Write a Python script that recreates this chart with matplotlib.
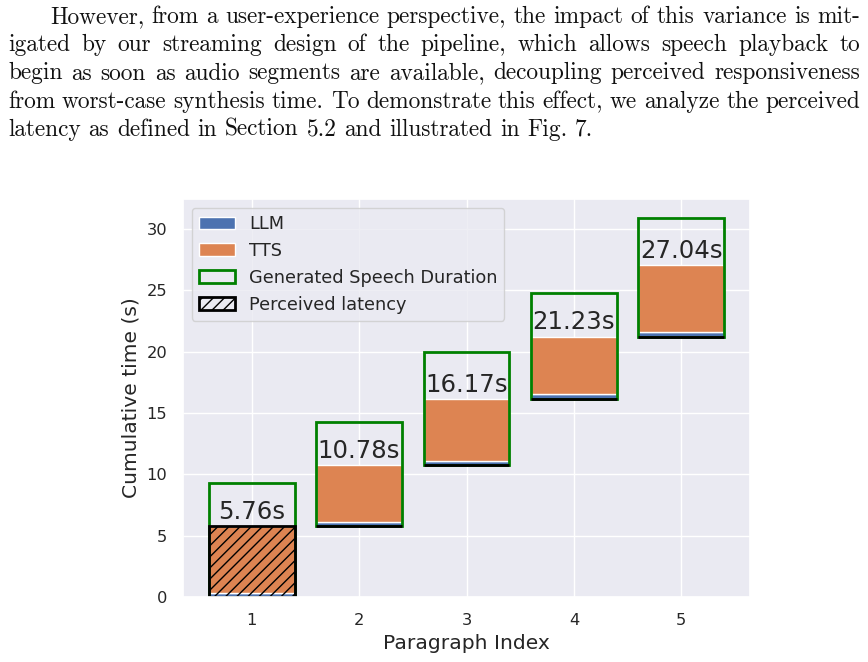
"""Stacked LLM/TTS timeline per paragraph with the paper paragraph above it."""

import matplotlib
matplotlib.use("Agg")
import matplotlib.pyplot as plt
import numpy as np
import seaborn as sns

# --- data ---------------------------------------------------------------
paragraphs = [1, 2, 3, 4, 5]
start_time = [0.0, 5.76, 10.78, 16.17, 21.23]      # paragraph start (s)
llm_time = [0.32, 0.34, 0.33, 0.35, 0.34]          # LLM slice (s)
tts_end = [5.76, 10.78, 16.17, 21.23, 27.04]       # end of TTS synthesis (s)
speech_end = [9.27, 14.30, 19.94, 24.80, 30.90]    # end of generated speech (s)
perceived = [5.76, 0.0, 0.0, 0.0, 0.0]             # perceived latency (s)

series_labels = ["LLM", "TTS", "Generated Speech Duration", "Perceived latency"]

paper_lines = [
    "However, from a user-experience perspective, the impact of this variance is mit-",
    "igated by our streaming design of the pipeline, which allows speech playback to",
    "begin as soon as audio segments are available, decoupling perceived responsiveness",
    "from worst-case synthesis time. To demonstrate this effect, we analyze the perceived",
    "latency as defined in Section 5.2 and illustrated in Fig. 7.",
]

FIG_W, FIG_H = 868, 662


def draw_paragraph(fig, lines):
    """Justified serif paragraph, like the LaTeX source page."""
    renderer = fig.canvas.get_renderer()
    left, right, indent = 8, 860, 42
    baselines = [23, 51, 79.5, 108, 136]
    style = dict(fontfamily="cmr10", fontsize=16.8, color="#111111", va="baseline")

    probe = fig.text(0, 0, "x x", **style)
    w_gap = probe.get_window_extent(renderer).width
    probe.set_text("xx")
    space = w_gap - probe.get_window_extent(renderer).width
    probe.remove()

    for i, (line, base) in enumerate(zip(lines, baselines)):
        words = line.split(" ")
        texts = [fig.text(0, 1 - base / FIG_H, w, **style) for w in words]
        widths = [t.get_window_extent(renderer).width for t in texts]
        x0 = left + (indent if i == 0 else 0)
        last = i == len(lines) - 1
        gap = space if last else (right - x0 - sum(widths)) / (len(words) - 1)
        x = x0
        for t, w in zip(texts, widths):
            t.set_x(x / FIG_W)
            x += w + gap


def main():
    sns.set_theme(style="darkgrid")
    blue, orange = sns.color_palette("deep")[:2]

    fig = plt.figure(figsize=(FIG_W / 100, FIG_H / 100), dpi=100)
    ax = fig.add_axes([183 / FIG_W, 65 / FIG_H, 567 / FIG_W, 398 / FIG_H])

    x = np.array(paragraphs)
    start = np.array(start_time)
    llm = np.array(llm_time)
    tts = np.array(tts_end) - start - llm
    speech = np.array(speech_end) - start

    ax.bar(x, llm, bottom=start, width=0.8, color=blue, edgecolor="white",
           linewidth=1, label=series_labels[0])
    ax.bar(x, tts, bottom=start + llm, width=0.8, color=orange, edgecolor="white",
           linewidth=1, label=series_labels[1])
    ax.bar(x, speech, bottom=start, width=0.8, fill=False, edgecolor="green",
           linewidth=2, label=series_labels[2])
    ax.bar(x, perceived, bottom=start, width=0.8, fill=False, edgecolor="black",
           hatch="///", linewidth=2, label=series_labels[3])

    for xi, end in zip(x, tts_end):
        ax.annotate(f"{end:.2f}s", (xi, end), xytext=(0, 1.5), textcoords="offset points",
                    ha="center", va="bottom", fontsize=17.6, color="#262626")

    ax.set_xticks(paragraphs)
    ax.tick_params(length=0, pad=11.5, labelsize=11.7)
    ax.set_xlabel("Paragraph Index", fontsize=14.6)
    ax.set_ylabel("Cumulative time (s)", fontsize=14.6)
    ax.legend(loc="upper left", fontsize=12.8)

    draw_paragraph(fig, paper_lines)
    fig.savefig("out.png", dpi=100)
    plt.close(fig)


if __name__ == "__main__":
    main()
